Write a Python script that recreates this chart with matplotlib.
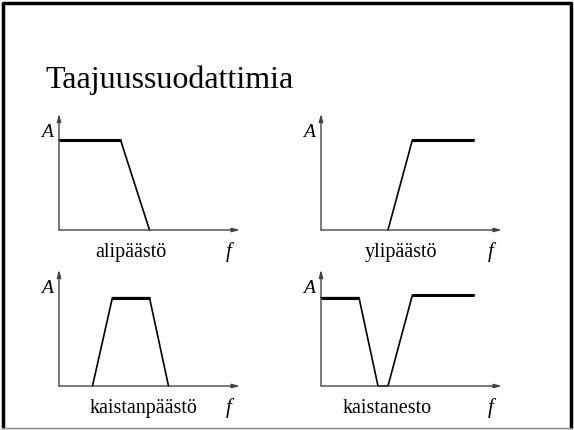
import matplotlib.pyplot as plt

plt.rcParams["font.family"] = ["Liberation Serif", "DejaVu Serif"]

title = "Taajuussuodattimia"

# filter shapes: frequency (0..10) vs amplitude
lp_f = [0, 3.4, 5.0]
lp_a = [1.02, 1.02, 0.0]
hp_f = [3.7, 5.05, 8.45]
hp_a = [0.0, 1.02, 1.02]
bp_f = [1.85, 2.95, 5.0, 6.05]
bp_a = [0.0, 1.0, 1.0, 0.0]
bs_f = [0, 2.1, 3.15, 3.7, 5.05, 8.45]
bs_a = [1.0, 1.0, 0.0, 0.0, 1.03, 1.03]

captions = ["alipäästö", "ylipäästö", "kaistanpäästö", "kaistanesto"]
caption_x = [3.95, 4.4, 4.65, 3.65]

W, H = 574, 430
fig = plt.figure(figsize=(W / 100, H / 100), dpi=100)

# slide frame
frame = fig.add_axes([0, 0, 1, 1])
frame.set_xlim(0, W)
frame.set_ylim(H, 0)
frame.axis("off")
frame.plot([2.5, 2.5, 571, 571], [427, 2.5, 2.5, 427], color="black", lw=2.5)
frame.plot([2, 572], [428, 428], color="#888888", lw=1)
frame.text(45, 88, title, fontsize=23, ha="left", va="baseline")

# panel origins (pixel x of y-axis, pixel y of x-axis)
panels = [
    (59, 230, lp_f, lp_a),
    (321, 230, hp_f, hp_a),
    (59, 386, bp_f, bp_a),
    (321, 386, bs_f, bs_a),
]
ax_w, ax_h = 181, 113

for (x0, y0, f, a), cap, cx in zip(panels, captions, caption_x):
    ax = fig.add_axes([x0 / W, (H - y0) / H, ax_w / W, ax_h / H])
    ax.set_xlim(0, 10)
    ax.set_ylim(0, 1.28)
    ax.axis("off")
    # axes with arrows
    ax.annotate("", xy=(1.0, 0), xytext=(0, 0), xycoords="axes fraction",
                arrowprops=dict(arrowstyle="-|>,head_length=0.45,head_width=0.12",
                                color="#444444", lw=1, shrinkA=0, shrinkB=0))
    ax.annotate("", xy=(0, 1.03), xytext=(0, 0), xycoords="axes fraction",
                arrowprops=dict(arrowstyle="-|>,head_length=0.45,head_width=0.12",
                                color="#444444", lw=1, shrinkA=0, shrinkB=0))
    ax.plot(f, a, color="black", lw=1.2, clip_on=False, solid_joinstyle="miter")
    # flat parts drawn thicker
    for i in range(len(f) - 1):
        if a[i] == a[i + 1] and a[i] > 0:
            ax.plot(f[i:i + 2], a[i:i + 2], color="black", lw=2.2,
                    solid_capstyle="butt", clip_on=False)
    ax.text(-0.35, 1.1, "A", style="italic", fontsize=14, ha="right", va="center")
    ax.text(9.4, -0.25, "f", style="italic", fontsize=15, ha="center", va="center")
    ax.text(cx, -0.25, cap, fontsize=14.5, ha="center", va="center")

fig.savefig("out.png", dpi=100)
